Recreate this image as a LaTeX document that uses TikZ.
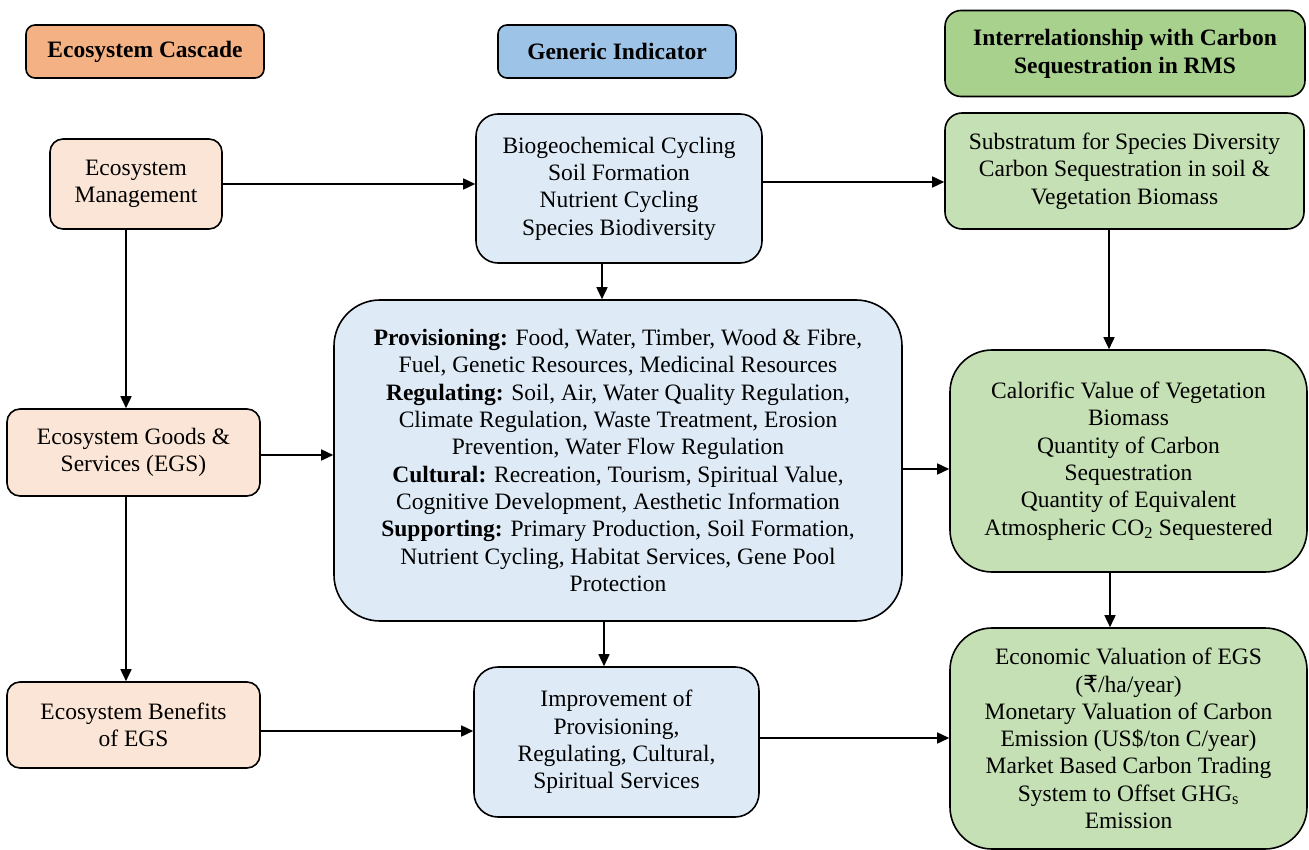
\documentclass[tikz,border=0pt]{standalone}
\usepackage{fontspec}
\setmainfont{LiberationSerif}[Extension=.ttf, UprightFont=*-Regular, BoldFont=*-Bold, ItalicFont=*-Italic, BoldItalicFont=*-BoldItalic]
\newfontfamily\rupeefont{DejaVu Sans}
\usetikzlibrary{arrows.meta}
\definecolor{hOrange}{HTML}{F4B183}
\definecolor{hBlue}{HTML}{9DC3E6}
\definecolor{hGreen}{HTML}{A9D18E}
\definecolor{lOrange}{HTML}{FBE5D6}
\definecolor{lBlue}{HTML}{DEEBF7}
\definecolor{lGreen}{HTML}{C5E0B4}
\tikzset{
  box/.style={draw=black, line width=1.6pt, rectangle, align=center, inner sep=0pt,
    font=\fontsize{23.5}{27.3}\selectfont},
  arr/.style={line width=1.6pt, -{Triangle[length=12pt,width=11pt]}},
}
\begin{document}
\begin{tikzpicture}[x=1pt,y=-1pt]
\useasboundingbox (0,0) rectangle (1309,850);
% headers
\node[box, fill=hOrange, rounded corners=9pt, minimum width=238pt, minimum height=53pt] (h1) at (145,51.5) {\textbf{Ecosystem Cascade}};
\node[box, fill=hBlue, rounded corners=9pt, minimum width=238pt, minimum height=53pt] (h2) at (617,51.5) {\textbf{Generic Indicator}};
\node[box, fill=hGreen, rounded corners=16pt, minimum width=360pt, minimum height=86pt, font=\fontsize{23.5}{28}\selectfont] (h3) at (1125,53.5) {\textbf{Interrelationship with Carbon}\\\textbf{Sequestration in RMS}};
% left column
\node[box, fill=lOrange, rounded corners=13pt, minimum width=172pt, minimum height=90pt] (em) at (136,184) {Ecosystem\\Management};
\node[box, fill=lOrange, rounded corners=13pt, minimum width=253pt, minimum height=87pt] (egs) at (133.5,452.5) {Ecosystem Goods \&\\Services (EGS)};
\node[box, fill=lOrange, rounded corners=13pt, minimum width=253pt, minimum height=86pt] (ben) at (133.5,725) {Ecosystem Benefits\\of EGS};
% middle column
\node[box, fill=lBlue, rounded corners=22pt, minimum width=286pt, minimum height=149pt] (bio) at (619,188.5) {Biogeochemical Cycling\\Soil Formation\\Nutrient Cycling\\Species Biodiversity};
\node[box, fill=lBlue, rounded corners=46pt, minimum width=568pt, minimum height=321pt] (big) at (618,460.5) {\textbf{Provisioning:} Food, Water, Timber, Wood \& Fibre,\\Fuel, Genetic Resources, Medicinal Resources\\\textbf{Regulating:} Soil, Air, Water Quality Regulation,\\Climate Regulation, Waste Treatment, Erosion\\Prevention, Water Flow Regulation\\\textbf{Cultural:} Recreation, Tourism, Spiritual Value,\\Cognitive Development, Aesthetic Information\\\textbf{Supporting:} Primary Production, Soil Formation,\\Nutrient Cycling, Habitat Services, Gene Pool\\Protection};
\node[box, fill=lBlue, rounded corners=24pt, minimum width=285pt, minimum height=150pt] (imp) at (616.5,742) {Improvement of\\Provisioning,\\Regulating, Cultural,\\Spiritual Services};
% right column
\node[box, fill=lGreen, rounded corners=17pt, minimum width=359pt, minimum height=116pt] (sub) at (1124.5,171) {Substratum for Species Diversity\\Carbon Sequestration in soil \&\\Vegetation Biomass};
\node[box, fill=lGreen, rounded corners=42pt, minimum width=357pt, minimum height=222pt] (cal) at (1128.5,461) {Calorific Value of Vegetation\\Biomass\\Quantity of Carbon\\Sequestration\\Quantity of Equivalent\\Atmospheric CO\textsubscript{2} Sequestered};
\node[box, fill=lGreen, rounded corners=42pt, minimum width=357pt, minimum height=221pt] (eco) at (1128.5,738.5) {Economic Valuation of EGS\\({\rupeefont ₹}/ha/year)\\Monetary Valuation of Carbon\\Emission (US\$/ton C/year)\\Market Based Carbon Trading\\System to Offset GHG\textsubscript{s}\\Emission};
% connectors
\draw[arr] (em.east) -- (em.east -| bio.west);
\draw[arr] (bio.east |- {(0,182)}) -- (sub.west |- {(0,182)});
\draw[arr] (bio.south -| {(602,0)}) -- (big.north -| {(602,0)});
\draw[arr] (big.south -| {(604,0)}) -- (imp.north -| {(604,0)});
\draw[arr] (em.south -| {(126,0)}) -- (egs.north -| {(126,0)});
\draw[arr] (egs.south -| {(126,0)}) -- (ben.north -| {(126,0)});
\draw[arr] (egs.east |- {(0,455)}) -- (big.west |- {(0,455)});
\draw[arr] (ben.east |- {(0,731)}) -- (imp.west |- {(0,731)});
\draw[arr] (big.east |- {(0,469)}) -- (cal.west |- {(0,469)});
\draw[arr] (imp.east |- {(0,738)}) -- (eco.west |- {(0,738)});
\draw[arr] (sub.south -| {(1109,0)}) -- (cal.north -| {(1109,0)});
\draw[arr] (cal.south -| {(1110,0)}) -- (eco.north -| {(1110,0)});
\end{tikzpicture}
\end{document}
